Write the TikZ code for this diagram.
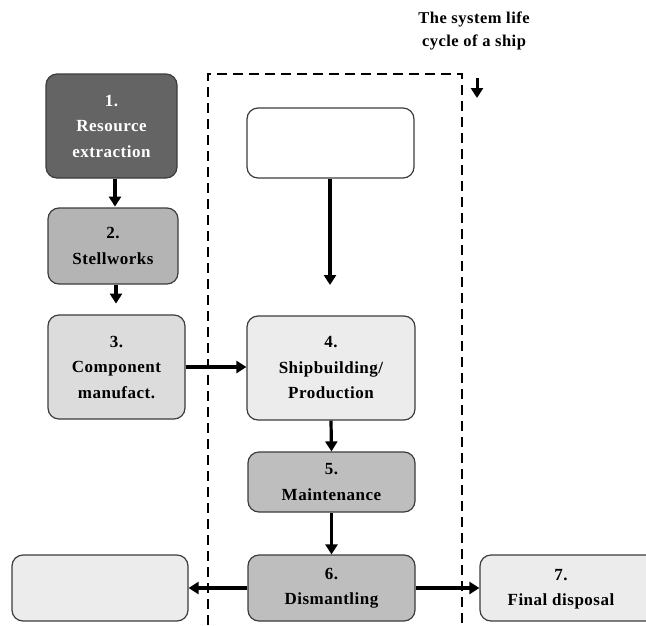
\documentclass[tikz,border=0pt]{standalone}
\usepackage{fontspec}
\setmainfont{Liberation Serif}[LetterSpace=3]
\usetikzlibrary{arrows.meta}
\definecolor{cA}{HTML}{646464}
\definecolor{cB}{HTML}{B4B4B4}
\definecolor{cC}{HTML}{DCDCDC}
\definecolor{cD}{HTML}{ECECEC}
\definecolor{cE}{HTML}{BEBEBE}
\definecolor{edge}{HTML}{3C3C3C}
\tikzset{
  box/.style={draw=edge, line width=1.2pt, rounded corners=11pt, inner sep=0pt,
    align=center, font=\fontsize{17}{25.5}\selectfont\bfseries},
  boxtext/.style={inner sep=0pt, align=center, font=\fontsize{17}{25.5}\selectfont\bfseries},
  conn/.style={line width=3.2pt, -{Triangle[length=10pt,width=12pt]}},
  frame/.style={line width=2.4pt, dash pattern=on 10pt off 6pt}
}
\begin{document}
\begin{tikzpicture}[x=1pt,y=-1pt]
\clip (0,0) rectangle (646,625);
\fill[white] (0,0) rectangle (646,625);
% dashed frame
\draw[frame] (208,625) -- (208,74) -- (462,74) -- (462,625);
% title
\node[align=center, font=\fontsize{16.5}{23}\selectfont\bfseries] (title) at (474,31) {The system life\\cycle of a ship};
\coordinate (lcA) at (477,78);
\coordinate (lcB) at (477,98);
\draw[line width=3pt, -{Triangle[length=10pt,width=12pt]}] (lcA) -- (lcB);
% boxes
\node[box, fill=cA, text=white, minimum width=131pt, minimum height=104pt] (b1) at (111.5,126) {1.\\Resource\\extraction};
\node[box, fill=cB, minimum width=130pt, minimum height=76pt] (b2) at (113,246) {2.\\Stellworks};
\node[box, fill=cC, minimum width=137pt, minimum height=104pt] (b3) at (116.5,367) {3.\\Component\\manufact.};
\node[box, fill=white, minimum width=167pt, minimum height=70pt] (b0) at (330.5,143) {};
\node[box, fill=cD, minimum width=168pt, minimum height=104pt] (b4) at (331,368) {4.\\Shipbuilding/\\Production};
\node[box, fill=cE, minimum width=167pt, minimum height=60pt] (b5) at (331.5,482) {5.\\Maintenance};
\node[box, fill=cE, minimum width=167pt, minimum height=66pt] (b6) at (331.5,588) {6.\\Dismantling};
\node[box, fill=cD, minimum width=176pt, minimum height=66pt] (bl) at (100,588) {};
\node[box, fill=cD, minimum width=180pt, minimum height=66pt] (b7) at (570,588) {};
\node[boxtext] (b7t) at (561,589) {7.\\Final disposal};
% connectors
\draw[conn] (b1.south -| 115,0) -- ++(0,28);
\draw[conn] (b2.south -| 116,0) -- ++(0,19);
\draw[conn] (b3.east |- 0,367) -- (b4.west |- 0,367);
\coordinate (b0end) at (330,285);
\draw[conn] (b0.south -| b0end) -- (b0end);
\draw[conn] (b4.south) -- (b5.north);
\draw[conn] (b5.south) -- (b6.north);
\draw[conn] (b6.west) -- (bl.east);
\draw[conn] (b6.east) -- (b7.west);
\end{tikzpicture}
\end{document}
